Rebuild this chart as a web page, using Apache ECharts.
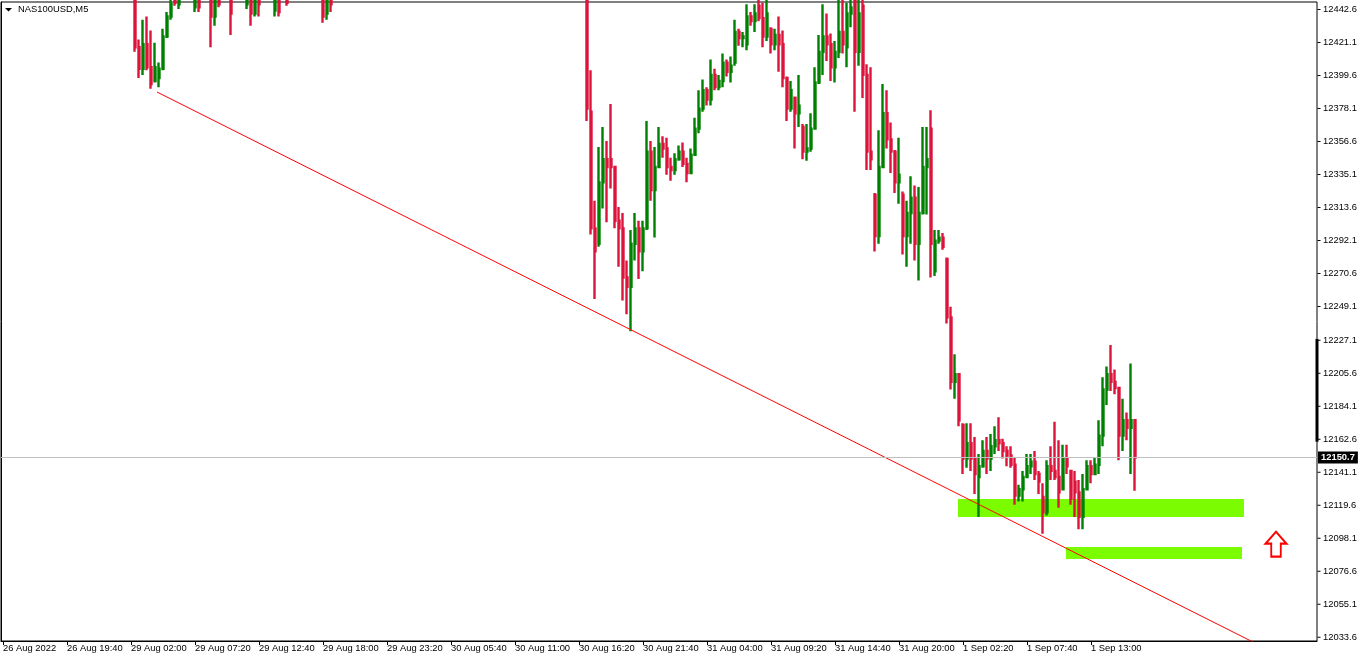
<!DOCTYPE html>
<html><head><meta charset="utf-8">
<script src="https://cdn.jsdelivr.net/npm/echarts@6/dist/echarts.min.js"></script>
<style>html,body{margin:0;padding:0;background:#fff}#c{width:1362px;height:660px}</style>
</head><body><div id="c"></div>
<script>
// ---- data ----
const symbolName = 'NAS100USD,M5';
const timeLabels = ['26 Aug 2022','26 Aug 19:40','29 Aug 02:00','29 Aug 07:20','29 Aug 12:40','29 Aug 18:00','29 Aug 23:20','30 Aug 05:40','30 Aug 11:00','30 Aug 16:20','30 Aug 21:40','31 Aug 04:00','31 Aug 09:20','31 Aug 14:40','31 Aug 20:00','1 Sep 02:20','1 Sep 07:40','1 Sep 13:00'];
const labelStep = 16;      // one time label every 16 twenty-minute slots
const slotCount = 329;
const priceTicks = [12442.6,12421.1,12399.6,12378.1,12356.6,12335.1,12313.6,12292.1,12270.6,12249.1,12227.1,12205.6,12184.1,12162.6,12141.1,12119.6,12098.1,12076.6,12055.1,12033.6];
const priceMin = 12031.16, priceMax = 12447.49;
const bidPrice = 12150.7;

// candles [open, close, low, high]; null = out of view
const segAStart = 33;
const segA = [
 [12452,12418,12415,12458],[12418,12404,12398,12423],[12404,12420,12400,12436],[12420,12405,12403,12438],
 [12405,12394,12391,12429],[12396,12405,12395,12421],[12398,12404,12392,12408],[12404,12425,12403,12430],
 [12425,12438,12424,12441],[12438,12446,12436,12452],[12450,12447,12445,12455],[12446,12452,12443,12456],
 null,null,null,
 [12444,12452,12441,12456],[12450,12444,12441,12455],
 null,null,
 [12448,12438,12418,12456],[12438,12450,12432,12455],[12452,12446,12444,12458],
 null,null,
 [12450,12440,12426,12456],
 null,null,null,
 [12446,12452,12443,12456],[12452,12440,12432,12458],[12440,12452,12438,12456],[12450,12446,12438,12456],
 null,null,null,
 [12442,12450,12438,12456],[12450,12441,12438,12456],
 null,
 [12452,12447,12445,12456],
 null,null,null,null,null,null,null,null,
 [12452,12438,12434,12456],[12440,12450,12436,12456],[12452,12446,12441,12456]
];
const segBStart = 146;
const segB = [
 [12455,12378,12370,12460],[12376,12300,12296,12403],[12300,12285,12254,12318],[12290,12330,12288,12353],
 [12330,12345,12313,12366],[12345,12340,12304,12357],[12345,12340,12326,12381],[12340,12305,12300,12340],
 [12305,12300,12275,12314],[12300,12268,12253,12310],[12268,12262,12244,12279],[12262,12290,12233,12299],
 [12290,12300,12279,12310],[12300,12285,12267,12305],[12285,12300,12272,12305],[12300,12350,12299,12370],
 [12350,12325,12318,12357],[12325,12340,12294,12353],[12340,12355,12340,12366],[12355,12352,12346,12360],
 [12352,12340,12335,12359],[12340,12338,12331,12346],[12338,12345,12335,12349],[12345,12350,12344,12354],
 [12350,12342,12340,12356],[12342,12336,12330,12346],[12336,12348,12336,12352],[12348,12365,12348,12372],
 [12365,12378,12362,12390],[12378,12390,12376,12397],[12390,12384,12380,12392],[12384,12400,12380,12410],
 [12400,12392,12390,12404],[12392,12396,12390,12400],[12396,12408,12392,12414],[12408,12402,12399,12410],
 [12402,12406,12395,12412],[12408,12428,12406,12436],[12428,12424,12419,12430],[12424,12425,12418,12428],
 [12420,12438,12416,12446],[12438,12435,12432,12441],[12435,12440,12428,12446],[12445,12437,12435,12452],
 [12437,12425,12418,12447],[12425,12440,12422,12452],[12430,12420,12414,12431],[12420,12426,12416,12430],
 [12426,12420,12402,12438],[12420,12398,12392,12429],[12398,12378,12370,12399],[12378,12390,12376,12396],
 [12385,12375,12352,12386],[12375,12380,12366,12400],[12366,12350,12345,12368],[12350,12352,12344,12368],
 [12352,12365,12350,12375],[12365,12395,12365,12405],[12395,12415,12394,12426],[12415,12425,12400,12446],
 [12425,12420,12409,12440],[12420,12405,12396,12427],[12405,12415,12395,12422],[12415,12428,12411,12452],
 [12428,12420,12414,12450],[12418,12440,12405,12447],[12440,12444,12431,12455],[12450,12415,12376,12458],
 [12415,12440,12406,12452],[12445,12400,12385,12458],[12400,12350,12338,12407],[12350,12345,12338,12405],
 [12322,12295,12285,12323],[12295,12340,12290,12364],[12340,12375,12340,12394],[12375,12358,12352,12390],
 [12358,12350,12336,12369],[12350,12330,12323,12351],[12330,12335,12316,12359],[12322,12295,12283,12324],
 [12295,12310,12275,12318],[12310,12320,12290,12334],[12320,12290,12279,12328],[12290,12310,12266,12327],
 [12310,12340,12309,12366],[12340,12345,12309,12366],[12365,12290,12268,12377],[12272,12292,12269,12299],
 [12292,12294,12290,12299],[12294,12288,12286,12297],[12280,12242,12238,12281],[12242,12200,12195,12249],
 [12200,12205,12189,12218],[12205,12175,12171,12205],[12172,12150,12140,12173],[12150,12160,12144,12173],
 [12160,12150,12142,12173],[12150,12140,12127,12164],[12138,12145,12112,12153],[12145,12155,12144,12162],
 [12155,12150,12140,12164],[12150,12158,12142,12166],[12158,12162,12153,12171],[12162,12160,12155,12177],
 [12160,12155,12150,12163],[12155,12152,12145,12158],[12152,12146,12144,12158],[12146,12126,12120,12151],
 [12126,12130,12122,12133],[12130,12138,12122,12142],[12138,12145,12138,12153],[12145,12148,12140,12153],
 [12148,12140,12136,12155],[12140,12135,12127,12142],[12125,12115,12101,12134],[12115,12145,12113,12149],
 [12145,12142,12136,12158],[12142,12138,12136,12174],[12138,12128,12118,12162],[12130,12150,12130,12159],
 [12150,12145,12140,12159],[12142,12124,12120,12142],[12135,12128,12112,12142],[12128,12112,12104,12136],
 [12112,12130,12104,12140],[12130,12145,12130,12149],[12145,12140,12134,12149],[12140,12146,12140,12151],
 [12146,12165,12140,12175],[12165,12195,12158,12203],[12195,12205,12185,12210],[12205,12200,12194,12224],
 [12200,12196,12192,12208],[12196,12165,12149,12196],[12165,12175,12155,12189],[12175,12170,12162,12180],
 [12170,12175,12140,12212],[12175,12150.7,12129,12175]
];

// drawn objects, in [slot position, price]
const trendLine = [[39, 12388.85], [329, 12009.58]];
const zone1 = [[239.25, 12123.68], [310.75, 12111.96]];
const zone2 = [[266.25, 12092.46], [310.25, 12084.64]];
const arrowMark = [[318.75, 12094.23]];
const scaleBar = [[329, 12228], [329, 12161]];

// ---- build ----
const candles = [];
for (let i = 0; i < slotCount; i++) candles.push(['-','-','-','-']);
segA.forEach((d, k) => { if (d) candles[segAStart + k] = d; });
segB.forEach((d, k) => { if (d) candles[segBStart + k] = d; });
const categories = Array.from({length: slotCount}, (_, i) => String(i));
const showIdx = idx => idx % labelStep === 0 && idx / labelStep < timeLabels.length;
const priceTickPoints = priceTicks.map(p => [slotCount, p]);

const FONT = "'Liberation Sans', Arial, sans-serif";
const chart = echarts.init(document.getElementById('c'), null, {renderer: 'canvas'});
chart.setOption({
  animation: false,
  backgroundColor: '#fff',
  grid: {left: 1, top: 2, width: 1316, bottom: 19, show: true, borderColor: '#000', borderWidth: 1, backgroundColor: '#fff'},
  xAxis: [{
    type: 'category', data: categories, boundaryGap: true,
    axisLine: {lineStyle: {color: '#000', width: 1}},
    axisTick: {show: true, alignWithLabel: true, interval: showIdx, length: 4, lineStyle: {color: '#000'}},
    axisLabel: {interval: showIdx, formatter: (v, idx) => timeLabels[idx / labelStep] || '', align: 'left',
      margin: 3, fontSize: 9.4, fontFamily: FONT, color: '#000'},
    splitLine: {show: false}
  }, {
    type: 'value', min: 0, max: slotCount, show: false
  }],
  yAxis: {
    type: 'value', position: 'right', min: priceMin, max: priceMax,
    axisLine: {show: true, lineStyle: {color: '#000', width: 1}},
    axisTick: {show: false},
    axisLabel: {customValues: priceTicks, formatter: v => v.toFixed(1), margin: 6, fontSize: 9.4, fontFamily: FONT, color: '#000'},
    splitLine: {show: false}
  },
  graphic: [
    {type: 'polygon', shape: {points: [[5, 8], [12, 8], [8.5, 11.5]]}, style: {fill: '#000'}},
    {type: 'text', left: 18, top: 5, style: {text: symbolName, font: '9.4px ' + FONT, fill: '#000'}}
  ],
  series: [
    {
      type: 'line', xAxisIndex: 1, data: [], silent: true, z: 1,
      markArea: {silent: true, itemStyle: {color: '#7CFC00', opacity: 1},
        data: [
          [{coord: zone1[0]}, {coord: zone1[1]}],
          [{coord: zone2[0]}, {coord: zone2[1]}]
        ]}
    },
    {
      type: 'candlestick', data: candles, barWidth: 1.6, z: 2, silent: true,
      itemStyle: {color: '#008000', color0: '#DC143C', borderColor: '#008000', borderColor0: '#DC143C', borderWidth: 2.4},
      markLine: {
        silent: true, symbol: ['none', 'none'],
        lineStyle: {color: '#C0C0C0', type: 'solid', width: 1},
        label: {show: true, position: 'end', distance: 1, formatter: bidPrice.toFixed(1),
          backgroundColor: '#000', color: '#fff', padding: [2, 3, 1, 3], fontSize: 9.4, fontFamily: FONT, fontWeight: 'bold'},
        data: [{yAxis: bidPrice}]
      }
    },
    {
      type: 'line', xAxisIndex: 1, data: trendLine, symbol: 'none', z: 3, silent: true,
      lineStyle: {color: '#FF0000', width: 1}
    },
    {
      type: 'scatter', xAxisIndex: 1, data: arrowMark, z: 4, silent: true,
      symbol: 'path://M11,0 L22,12 L16,12 L16,25 L6,25 L6,12 L0,12 Z',
      symbolSize: [21, 25],
      itemStyle: {color: '#fff', borderColor: '#FF0000', borderWidth: 2, opacity: 1}
    },
    {
      type: 'line', xAxisIndex: 1, data: scaleBar, symbol: 'none', z: 5, silent: true, clip: false,
      lineStyle: {color: '#000', width: 3}
    },
    {
      type: 'scatter', xAxisIndex: 1, data: priceTickPoints, z: 5, silent: true, clip: false,
      symbol: 'rect', symbolSize: [3, 1], symbolOffset: [2, 0],
      itemStyle: {color: '#000', opacity: 1}
    }
  ]
});
</script></body></html>
